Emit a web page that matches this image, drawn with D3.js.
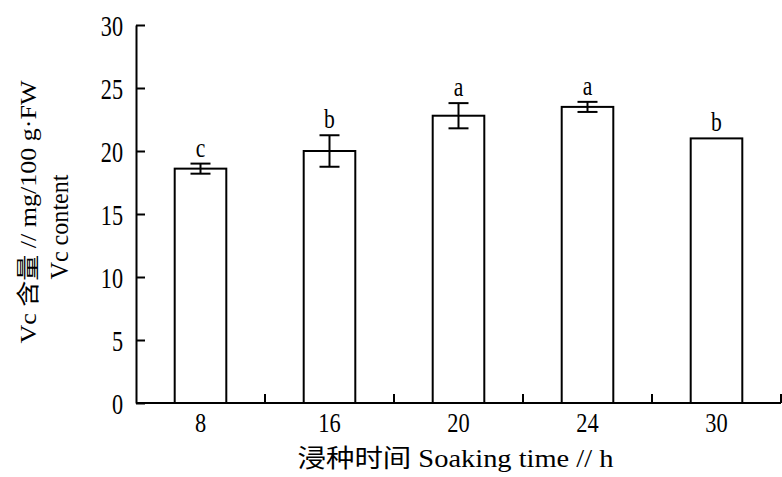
<!DOCTYPE html>
<html>
<head>
<meta charset="utf-8">
<script src="https://cdn.jsdelivr.net/npm/d3@7"></script>
<style>
  body { margin: 0; background: #fff; }
  svg text { font-family: "Liberation Serif", "Noto Sans CJK SC", serif; fill: #000; }
</style>
</head>
<body>
<div id="chart"></div>
<script>
// data
const hours = ["8", "16", "20", "24", "30"];
const vcContent = [18.6, 20.0, 22.8, 23.5, 21.0];
const vcError = [0.4, 1.25, 1.0, 0.4, 0];
const sigLetters = ["c", "b", "a", "a", "b"];
const yTicks = [0, 5, 10, 15, 20, 25, 30];

const width = 782;
const height = 477;
const margin = { top: 25, right: 1, bottom: 74, left: 136 };

const svg = d3.select("#chart")
  .append("svg")
  .attr("width", width)
  .attr("height", height);

// squeeze text horizontally, the original uses a narrow serif face
function squeeze(sel, f) {
  sel.each(function () {
    const w = this.getComputedTextLength();
    d3.select(this)
      .attr("textLength", w * f)
      .attr("lengthAdjust", "spacingAndGlyphs");
  });
}

const x = d3.scaleBand()
  .domain(hours)
  .range([margin.left, width - margin.right])
  .paddingInner(0.6)
  .paddingOuter(0.3);

const y = d3.scaleLinear()
  .domain([0, 30])
  .range([height - margin.bottom, margin.top]);

const stroke = 2;

// bars
svg.selectAll("rect.bar")
  .data(hours)
  .enter()
  .append("rect")
  .attr("class", "bar")
  .attr("x", (d) => x(d))
  .attr("y", (d, i) => y(vcContent[i]))
  .attr("width", x.bandwidth())
  .attr("height", (d, i) => y(0) - y(vcContent[i]))
  .attr("fill", "#fff")
  .attr("stroke", "#000")
  .attr("stroke-width", stroke);

// error bars
const capW = 20;
const errG = svg.selectAll("g.err")
  .data(hours.filter((d, i) => vcError[i] > 0))
  .enter()
  .append("g")
  .attr("class", "err")
  .attr("stroke", "#000")
  .attr("stroke-width", stroke);

errG.append("line")
  .attr("x1", (d) => x(d) + x.bandwidth() / 2)
  .attr("x2", (d) => x(d) + x.bandwidth() / 2)
  .attr("y1", (d) => y(vcContent[hours.indexOf(d)] + vcError[hours.indexOf(d)]))
  .attr("y2", (d) => y(vcContent[hours.indexOf(d)] - vcError[hours.indexOf(d)]));

[1, -1].forEach((s) => {
  errG.append("line")
    .attr("x1", (d) => x(d) + x.bandwidth() / 2 - capW / 2)
    .attr("x2", (d) => x(d) + x.bandwidth() / 2 + capW / 2)
    .attr("y1", (d) => y(vcContent[hours.indexOf(d)] + s * vcError[hours.indexOf(d)]))
    .attr("y2", (d) => y(vcContent[hours.indexOf(d)] + s * vcError[hours.indexOf(d)]));
});

// significance letters
svg.selectAll("text.sig")
  .data(hours)
  .enter()
  .append("text")
  .attr("class", "sig")
  .attr("x", (d) => x(d) + x.bandwidth() / 2)
  .attr("y", (d, i) => y(vcContent[i] + vcError[i]) - 7)
  .attr("text-anchor", "middle")
  .style("font-size", "27px")
  .text((d, i) => sigLetters[i])
  .call(squeeze, 0.8);

// y axis
const yAxis = svg.append("g")
  .attr("transform", `translate(${margin.left},0)`)
  .call(d3.axisLeft(y).tickValues(yTicks).tickSizeInner(-9).tickSizeOuter(0).tickPadding(13));
yAxis.select(".domain").attr("stroke-width", stroke);
yAxis.selectAll(".tick line").attr("stroke-width", stroke);
yAxis.selectAll(".tick text")
  .attr("font-family", null)
  .attr("font-size", null)
  .style("font-size", "30px")
  .attr("dy", "0.34em")
  .call(squeeze, 0.74);

// x axis: line with short inner ticks at category boundaries
const xAxis = svg.append("g")
  .attr("transform", `translate(0,${y(0)})`);
xAxis.append("line")
  .attr("x1", margin.left)
  .attr("x2", width - margin.right)
  .attr("stroke", "#000")
  .attr("stroke-width", stroke);
const step = x.step();
const bounds = d3.range(1, hours.length + 1).map((k) => x(hours[0]) - x.paddingOuter() * step + k * step);
xAxis.selectAll("line.tk")
  .data(bounds)
  .enter()
  .append("line")
  .attr("class", "tk")
  .attr("x1", (d) => d)
  .attr("x2", (d) => d)
  .attr("y1", 0)
  .attr("y2", -9)
  .attr("stroke", "#000")
  .attr("stroke-width", stroke);
xAxis.selectAll("text")
  .data(hours)
  .enter()
  .append("text")
  .attr("x", (d) => x(d) + x.bandwidth() / 2)
  .attr("y", 29)
  .attr("text-anchor", "middle")
  .style("font-size", "28px")
  .text((d) => d)
  .call(squeeze, 0.8);

// axis titles
svg.append("text")
  .attr("x", (margin.left + width - margin.right) / 2 - 3)
  .attr("y", 467)
  .attr("text-anchor", "middle")
  .style("font-size", "25px")
  .attr("textLength", 316)
  .attr("lengthAdjust", "spacingAndGlyphs")
  .text("浸种时间 Soaking time // h");

svg.append("text")
  .attr("transform", "translate(36,212) rotate(-90)")
  .attr("text-anchor", "middle")
  .style("font-size", "23px")
  .attr("textLength", 263)
  .attr("lengthAdjust", "spacingAndGlyphs")
  .text("Vc 含量 // mg/100 g·FW");
svg.append("text")
  .attr("transform", "translate(68,227) rotate(-90)")
  .attr("text-anchor", "middle")
  .style("font-size", "25px")
  .attr("textLength", 105)
  .attr("lengthAdjust", "spacingAndGlyphs")
  .text("Vc content");
</script>
</body>
</html>
